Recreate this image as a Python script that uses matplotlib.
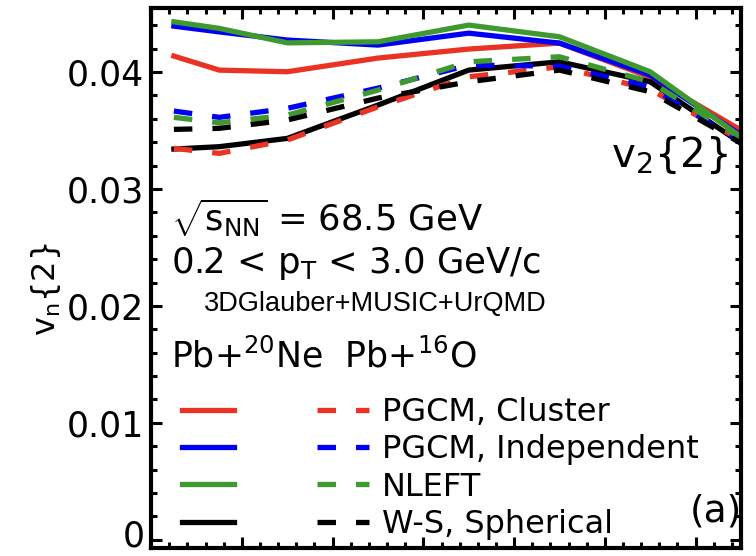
# v_n{2} vs centrality, Pb+Ne / Pb+O
import matplotlib
matplotlib.use('Agg')
import matplotlib.pyplot as plt
import matplotlib.transforms as mtransforms
from matplotlib.ticker import MultipleLocator, FuncFormatter
from matplotlib.lines import Line2D

plt.rcParams['font.family'] = ['DejaVu Sans']
plt.rcParams['mathtext.fontset'] = 'custom'
plt.rcParams['mathtext.rm'] = 'DejaVu Sans'
plt.rcParams['mathtext.it'] = 'DejaVu Sans'
plt.rcParams['mathtext.sf'] = 'DejaVu Sans'

# centrality bin centres (%)
cent = [2.5, 7.5, 15, 25, 35, 45, 55, 65]

# Pb+20Ne (solid)
ne_cluster = [0.04137, 0.04017, 0.04003, 0.04120, 0.04197, 0.04248, 0.03957, 0.03504]
ne_indep = [0.04393, 0.04344, 0.04274, 0.04231, 0.04333, 0.04248, 0.03974, 0.03462]
ne_nleft = [0.04430, 0.04374, 0.04250, 0.04259, 0.04402, 0.04302, 0.04003, 0.03447]
ne_ws = [0.03342, 0.03362, 0.03433, 0.03718, 0.04017, 0.04088, 0.03917, 0.03393]

# Pb+16O (dashed)
o_cluster = [0.03348, 0.03305, 0.03419, 0.03703, 0.03960, 0.04045, 0.03852, 0.03419]
o_indep = [0.03667, 0.03613, 0.03690, 0.03863, 0.04060, 0.04051, 0.03874, 0.03404]
o_nleft = [0.03613, 0.03567, 0.03632, 0.03846, 0.04088, 0.04131, 0.03917, 0.03436]
o_ws = [0.03510, 0.03519, 0.03590, 0.03778, 0.03917, 0.04017, 0.03832, 0.03393]

labels = ['PGCM, Cluster', 'PGCM, Independent', 'NLEFT', 'W-S, Spherical']
colors = ['#ea3323', '#0000f5', '#3e9a2f', 'black']
ne_sets = [ne_cluster, ne_indep, ne_nleft, ne_ws]
o_sets = [o_cluster, o_indep, o_nleft, o_ws]

fig = plt.figure(figsize=(7.56, 5.56), dpi=100)
ax = fig.add_axes([0.2, 0.0144, 0.78, 0.9716])

lw = 3.8
dash = (3.5, 3.8)
for ys, c in zip(ne_sets, colors):
    ax.plot(cent, ys, color=c, lw=lw)
for ys, c in zip(o_sets, colors):
    ax.plot(cent, ys, color=c, lw=lw, dashes=dash)

ax.set_xlim(0, 65)
ax.set_ylim(-0.0007, 0.0455)

ax.xaxis.set_major_locator(MultipleLocator(10))
ax.xaxis.set_minor_locator(MultipleLocator(2))
ax.yaxis.set_major_locator(MultipleLocator(0.01))
ax.yaxis.set_minor_locator(MultipleLocator(0.002))
ax.yaxis.set_major_formatter(FuncFormatter(lambda v, p: '0' if abs(v) < 1e-9 else f'{v:.2f}'))

ax.tick_params(which='both', direction='in', top=True, right=True, width=2.2,
               labelbottom=False, labelsize=25, pad=5)
ax.tick_params(which='major', length=8)
ax.tick_params(which='minor', length=4.5)
for s in ax.spines.values():
    s.set_linewidth(3)

ax.set_ylabel(r'$\mathregular{v_n\{2\}}$', fontsize=23)
ax.yaxis.set_label_coords(-0.15, 0.478)

ax.text(0.78, 0.726, r'$\mathregular{v_2\{2\}}$', transform=ax.transAxes, fontsize=29, va='center')
ax.text(0.034, 0.612, r'$\sqrt{\mathregular{s_{NN}}}$ = 68.5 GeV', transform=ax.transAxes,
        fontsize=25.5, va='center')
ax.text(0.034, 0.527, r'0.2 < $\mathregular{p_T}$ < 3.0 GeV/c', transform=ax.transAxes,
        fontsize=25.5, va='center')
ax.text(0.09, 0.452, '3DGlauber+MUSIC+UrQMD', transform=ax.transAxes, fontsize=19.5,
        va='center', family='Liberation Sans')
ax.text(0.034, 0.355, r'Pb+$\mathregular{^{20}}$Ne  Pb+$\mathregular{^{16}}$O', transform=ax.transAxes,
        fontsize=25, va='center')
ax.text(0.913, 0.067, '(a)', transform=ax.transAxes, fontsize=27, va='center')

handles = [Line2D([], [], color=c, lw=lw) for c in colors]
handles += [Line2D([], [], color=c, lw=lw, dashes=dash) for c in colors]
ax.legend(handles, [''] * 4 + labels, ncol=2, loc='lower left',
          bbox_to_anchor=(0.052, 0.015), frameon=False, fontsize=23,
          handlelength=1.63, handletextpad=0.4, columnspacing=2.2,
          labelspacing=0.2, borderpad=0, borderaxespad=0)

# nudge the bottom "0" up so it stays inside the picture
fig.canvas.draw()
shift = mtransforms.ScaledTranslation(0, 5 / 72, fig.dpi_scale_trans)
for t in ax.yaxis.get_major_ticks():
    if abs(t.get_loc()) < 1e-9:
        t.label1.set_transform(t.label1.get_transform() + shift)

fig.savefig('out.png', dpi=100)
